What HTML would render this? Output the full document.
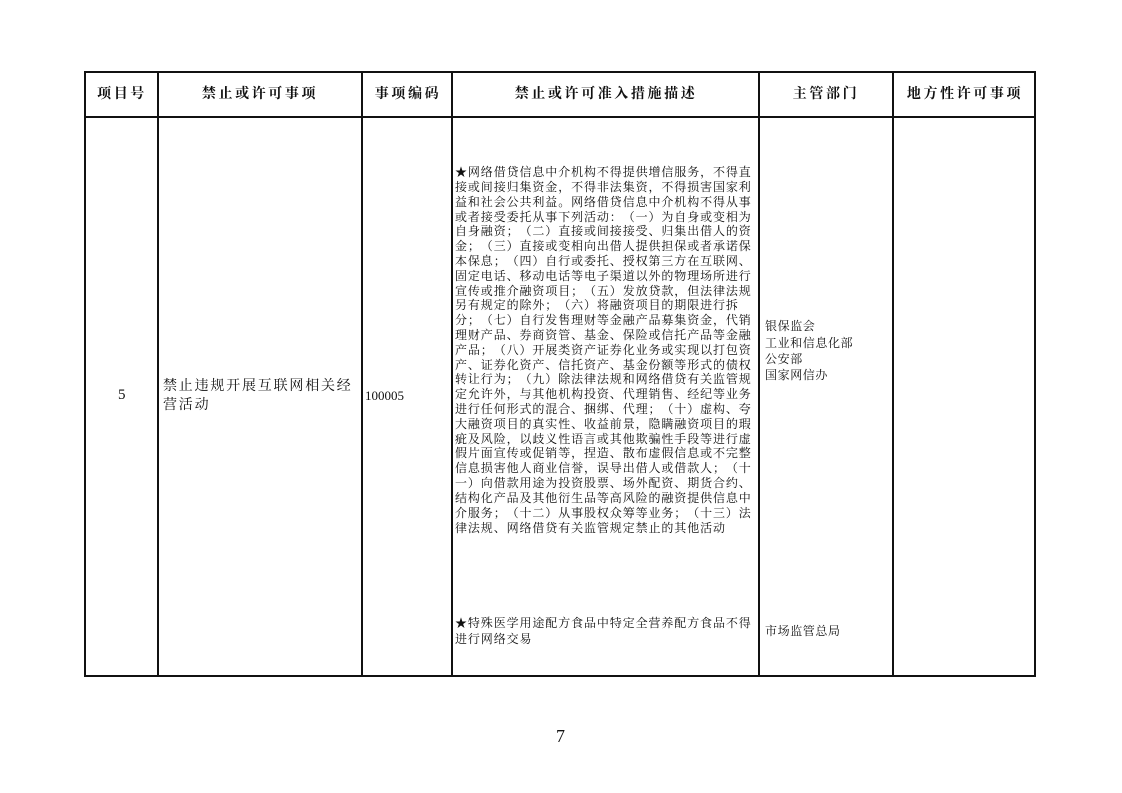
<!DOCTYPE html>
<html><head><meta charset="utf-8"><style>
body{margin:0;width:1122px;height:793px;background:#fff;position:relative;overflow:hidden;font-family:"Liberation Serif","Noto Serif CJK SC",serif;color:#111}
.l{position:absolute;background:#111}
.t{position:absolute;white-space:nowrap;line-height:1;text-spacing-trim:space-all}
.h{font-family:"Noto Serif CJK SC",serif;font-weight:bold;font-size:14px;letter-spacing:2.6px;transform:translateX(-50%)}
.d{font-family:"Noto Serif CJK SC",serif;font-size:12px;letter-spacing:0.9px;left:455px}
.c{font-family:"Noto Serif CJK SC",serif}
</style></head><body>
<div class="l" style="left:84px;top:71px;width:952px;height:2px"></div>
<div class="l" style="left:84px;top:116px;width:952px;height:1.5px"></div>
<div class="l" style="left:84px;top:675px;width:952px;height:2px"></div>
<div class="l" style="left:84px;top:71px;width:2px;height:606px"></div>
<div class="l" style="left:157px;top:71px;width:1.5px;height:606px"></div>
<div class="l" style="left:361px;top:71px;width:1.5px;height:606px"></div>
<div class="l" style="left:451px;top:71px;width:1.5px;height:606px"></div>
<div class="l" style="left:758px;top:71px;width:1.5px;height:606px"></div>
<div class="l" style="left:892px;top:71px;width:1.5px;height:606px"></div>
<div class="l" style="left:1034px;top:71px;width:2px;height:606px"></div>
<div class="t h" style="left:122px;top:86px">项目号</div>
<div class="t h" style="left:260px;top:86px">禁止或许可事项</div>
<div class="t h" style="left:408px;top:86px">事项编码</div>
<div class="t h" style="left:606px;top:86px">禁止或许可准入措施描述</div>
<div class="t h" style="left:826px;top:86px">主管部门</div>
<div class="t h" style="left:965px;top:86px">地方性许可事项</div>
<div class="t" style="left:118px;top:388px;font-size:15px">5</div>
<div class="t c" style="left:163px;top:378px;font-size:14px;letter-spacing:1.8px">禁止违规开展互联网相关经</div>
<div class="t c" style="left:163px;top:397px;font-size:14px;letter-spacing:1.8px">营活动</div>
<div class="t" style="left:365px;top:389px;font-size:13px">100005</div>
<div class="t d" style="top:166px">★网络借贷信息中介机构不得提供增信服务，不得直</div>
<div class="t d" style="top:181px">接或间接归集资金，不得非法集资，不得损害国家利</div>
<div class="t d" style="top:196px">益和社会公共利益。网络借贷信息中介机构不得从事</div>
<div class="t d" style="top:211px">或者接受委托从事下列活动：（一）为自身或变相为</div>
<div class="t d" style="top:225px">自身融资；（二）直接或间接接受、归集出借人的资</div>
<div class="t d" style="top:240px">金；（三）直接或变相向出借人提供担保或者承诺保</div>
<div class="t d" style="top:255px">本保息；（四）自行或委托、授权第三方在互联网、</div>
<div class="t d" style="top:270px">固定电话、移动电话等电子渠道以外的物理场所进行</div>
<div class="t d" style="top:285px">宣传或推介融资项目；（五）发放贷款，但法律法规</div>
<div class="t d" style="top:299px">另有规定的除外；（六）将融资项目的期限进行拆</div>
<div class="t d" style="top:314px">分；（七）自行发售理财等金融产品募集资金，代销</div>
<div class="t d" style="top:329px">理财产品、券商资管、基金、保险或信托产品等金融</div>
<div class="t d" style="top:344px">产品；（八）开展类资产证券化业务或实现以打包资</div>
<div class="t d" style="top:359px">产、证券化资产、信托资产、基金份额等形式的债权</div>
<div class="t d" style="top:373px">转让行为；（九）除法律法规和网络借贷有关监管规</div>
<div class="t d" style="top:388px">定允许外，与其他机构投资、代理销售、经纪等业务</div>
<div class="t d" style="top:403px">进行任何形式的混合、捆绑、代理；（十）虚构、夸</div>
<div class="t d" style="top:418px">大融资项目的真实性、收益前景，隐瞒融资项目的瑕</div>
<div class="t d" style="top:433px">疵及风险，以歧义性语言或其他欺骗性手段等进行虚</div>
<div class="t d" style="top:447px">假片面宣传或促销等，捏造、散布虚假信息或不完整</div>
<div class="t d" style="top:462px">信息损害他人商业信誉，误导出借人或借款人；（十</div>
<div class="t d" style="top:477px">一）向借款用途为投资股票、场外配资、期货合约、</div>
<div class="t d" style="top:492px">结构化产品及其他衍生品等高风险的融资提供信息中</div>
<div class="t d" style="top:507px">介服务；（十二）从事股权众筹等业务；（十三）法</div>
<div class="t d" style="top:522px">律法规、网络借贷有关监管规定禁止的其他活动</div>
<div class="t d" style="top:617px">★特殊医学用途配方食品中特定全营养配方食品不得</div>
<div class="t d" style="top:633px">进行网络交易</div>
<div class="t c" style="left:765px;top:320px;font-size:12px;letter-spacing:0.6px">银保监会</div>
<div class="t c" style="left:765px;top:337px;font-size:12px;letter-spacing:0.6px">工业和信息化部</div>
<div class="t c" style="left:765px;top:353px;font-size:12px;letter-spacing:0.6px">公安部</div>
<div class="t c" style="left:765px;top:369px;font-size:12px;letter-spacing:0.6px">国家网信办</div>
<div class="t c" style="left:765px;top:625px;font-size:12px;letter-spacing:0.6px">市场监管总局</div>
<div class="t" style="left:556px;top:727px;font-size:18px">7</div>
</body></html>
